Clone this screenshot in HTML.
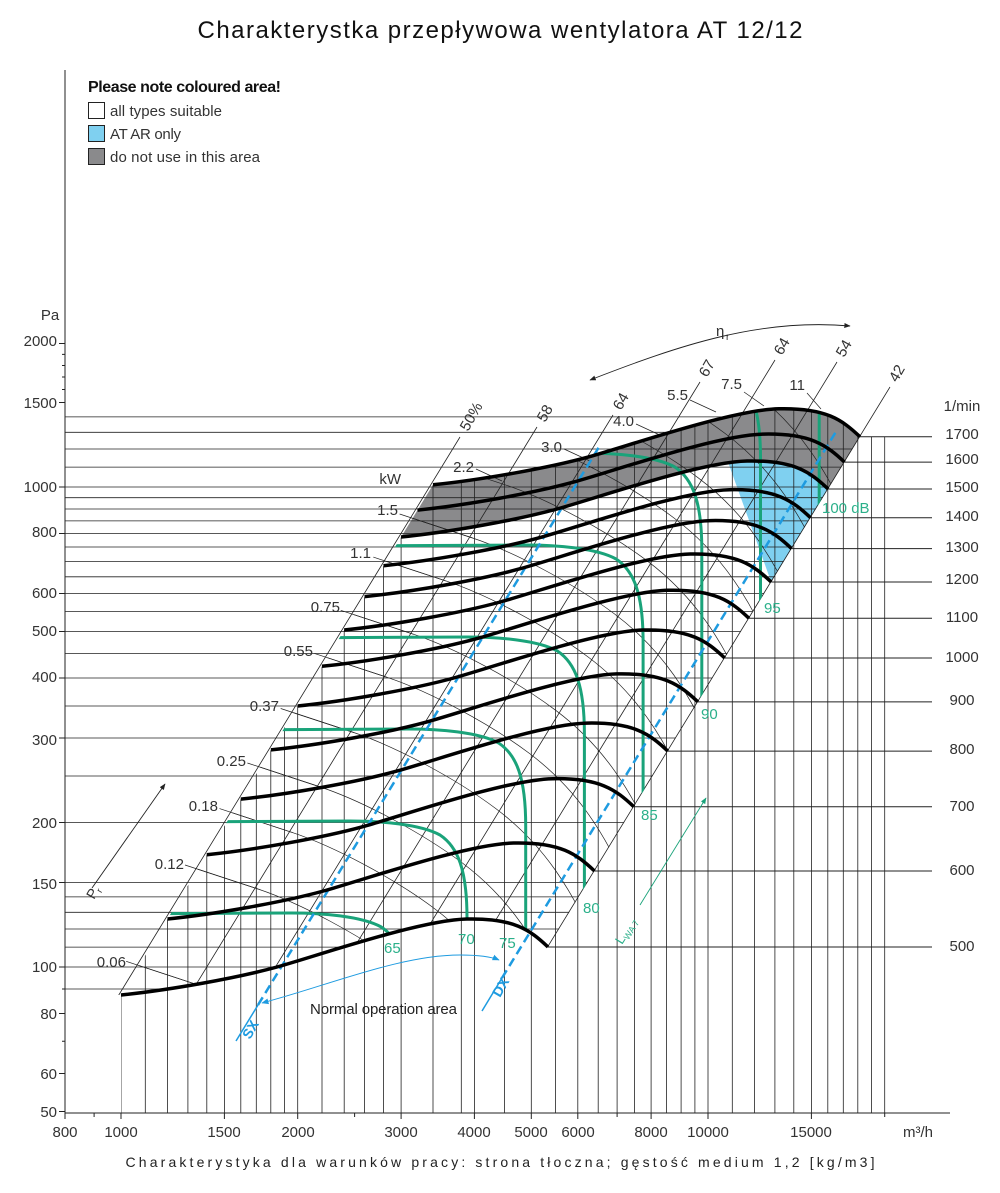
<!DOCTYPE html>
<html><head><meta charset="utf-8"><style>
html,body{margin:0;padding:0;background:#fff}
svg{display:block}
text{font-family:"Liberation Sans",sans-serif;fill:#333}
</style></head><body>
<svg width="1000" height="1193" viewBox="0 0 1000 1193" xmlns="http://www.w3.org/2000/svg">
<defs>
<clipPath id="cR"><path d="M121,995 C170,990 237,978 277,967 C317,956 420,920 467,919 C514,918 530,930 548,947 L860,436.8 C842,419.8 826,407.8 779,408.8 C732,409.8 629,445.8 589,456.8 C549,467.8 482,479.8 433,484.8 Z"/></clipPath>
<clipPath id="cV"><path d="M121,1113 L121,995 L433,484.8 C482,479.8 549,467.8 589,456.8 C629,445.8 732,409.8 779,408.8 C826,407.8 842,419.8 860,436.8 L930,436.8 L930,1113 Z"/></clipPath>
<clipPath id="cH"><path d="M65,395 L779,395 L779,409 L745,412 L679,427 L660,434 L860,436.8 L548,947 C530,930 514,918 467,919 C420,920 317,956 277,967 C237,978 170,990 121,995 L65,995 Z"/></clipPath>
<clipPath id="cB"><path d="M0,0 L1000,0 L1000,947 L548,947 C530,930 514,918 467,919 C420,920 317,956 277,967 C237,978 170,990 121,995 L0,995 Z"/></clipPath>
<path id="fan" d="M121,995 C170,990 237,978 277,967 C317,956 420,920 467,919 C514,918 530,930 548,947"/>
<path id="pw" d="M185,865 L258,889 C300,903 360,935 400,965 C440,995 480,1040 515,1140"/>
<path id="ld" d="M185,865 L258,889"/>
<path id="db" d="M150,822 L350,821 C380,821 420,824 440,835 C458,847 467,870 467,918 L467,1100"/>
<marker id="ab" viewBox="0 0 10 10" refX="9" refY="5" markerWidth="7" markerHeight="7" orient="auto-start-reverse"><path d="M0,1 L10,5 L0,9 Z" fill="#222"/></marker>
<marker id="abl" viewBox="0 0 10 10" refX="9" refY="5" markerWidth="8" markerHeight="8" orient="auto-start-reverse"><path d="M0,1 L10,5 L0,9 Z" fill="#1e9be0"/></marker>
<marker id="agr" viewBox="0 0 10 10" refX="9" refY="5" markerWidth="7" markerHeight="7" orient="auto"><path d="M0,1 L10,5 L0,9 Z" fill="#1aa37a"/></marker>
</defs>
<text x="500" y="38" text-anchor="middle" font-size="24" textLength="605" style="fill:#111">Charakterystka przepływowa wentylatora AT 12/12</text>

<path d="M401.1,537 C450.1,532 517.1,520 557.1,509 C597.1,498 700.1,462 747.1,461 C794.1,460 810.1,472 828.1,489 L860,436.8 C842,419.8 826,407.8 779,408.8 C732,409.8 629,445.8 589,456.8 C549,467.8 482,479.8 433,484.8 Z" fill="#8a8a8c"/>
<path d="M728,462 L747,461 C794,460 810,472 828,489 L771.2,582 Z" fill="#7fd0f0"/>

<g clip-path="url(#cV)">
<path stroke="#222" stroke-width="0.8" fill="none" d="M121,0V1113M145.3,0V1113M167.5,0V1113M187.9,0V1113M206.8,0V1113M224.4,0V1113M240.8,0V1113M256.3,0V1113M270.8,0V1113M284.6,0V1113M297.7,0V1113M322,0V1113M344.2,0V1113M364.6,0V1113M383.5,0V1113M401.1,0V1113M433,0V1113M461.3,0V1113M474.4,0V1113M504.4,0V1113M531.3,0V1113M555.6,0V1113M577.8,0V1113M598.2,0V1113M617.1,0V1113M634.6,0V1113M651.1,0V1113M666.5,0V1113M681.1,0V1113M694.9,0V1113M708,0V1113M732.3,0V1113M754.5,0V1113M774.9,0V1113M793.8,0V1113M811.4,0V1113M827.8,0V1113M843.3,0V1113M857.8,0V1113M871.6,0V1113M884.7,0V1113"/>
</g>
<g clip-path="url(#cH)">
<path stroke="#222" stroke-width="0.8" fill="none" d="M65,989H940M65,967H940M65,947.1H940M65,929H940M65,912.3H940M65,896.9H940M65,882.5H940M65,822.5H940M65,776H940M65,738H940M65,706H940M65,678H940M65,653.5H940M65,631.5H940M65,611.6H940M65,593.5H940M65,576.8H940M65,561.4H940M65,547H940M65,533.5H940M65,520.9H940M65,509H940M65,497.7H940M65,487H940M65,467.1H940M65,449H940M65,432.3H940M65,416.9H940"/>
</g>
<path stroke="#222" stroke-width="1" fill="none" d="M548,947H932M594.5,871H932M633.8,806.7H932M667.8,751.1H932M697.9,701.9H932M724.7,658H932M749,618.3H932M771.2,582H932M791.6,548.6H932M810.5,517.7H932M828.1,489H932M844.5,462.1H932M860,436.8H932"/>
<g clip-path="url(#cR)" stroke="#222" stroke-width="0.7" fill="none">
<use href="#pw" transform="translate(-58.9,96.3)"/>
<use href="#pw"/>
<use href="#pw" transform="translate(34.5,-56.4)"/>
<use href="#pw" transform="translate(62.4,-102)"/>
<use href="#pw" transform="translate(95.7,-156.5)"/>
<use href="#pw" transform="translate(129.4,-211.6)"/>
<use href="#pw" transform="translate(155.7,-254.7)"/>
<use href="#pw" transform="translate(188.3,-307.9)"/>
<use href="#pw" transform="translate(214.6,-351)"/>
<use href="#pw" transform="translate(247.1,-404.2)"/>
<use href="#pw" transform="translate(273.5,-447.4)"/>
<use href="#pw" transform="translate(298,-487.3)"/>
<use href="#pw" transform="translate(325,-531.6)"/>
<use href="#pw" transform="translate(351.4,-574.7)"/>
<use href="#pw" transform="translate(384,-627.9)"/>
</g>
<g stroke="#222" stroke-width="0.7" fill="none">
<use href="#ld" transform="translate(-58.9,96.3)"/>
<use href="#ld"/>
<use href="#ld" transform="translate(34.5,-56.4)"/>
<use href="#ld" transform="translate(62.4,-102)"/>
<use href="#ld" transform="translate(95.7,-156.5)"/>
<use href="#ld" transform="translate(129.4,-211.6)"/>
<use href="#ld" transform="translate(155.7,-254.7)"/>
<use href="#ld" transform="translate(188.3,-307.9)"/>
<use href="#ld" transform="translate(214.6,-351)"/>
<path d="M476,469l26,12M564,449l26,12M636,424l26,12M690,400l26,12M744,392l20,14M807,393l14,16"/>
</g>
<g clip-path="url(#cB)">
<path stroke="#222" stroke-width="0.8" fill="none" d="M460,437L31.95,1137M537,427L108.95,1127M613,415L184.95,1115M700,382L271.95,1082M775,360L346.95,1060M837,362L408.95,1062M890,387L461.95,1087"/>
</g>
<g clip-path="url(#cR)" stroke="#1aa37a" stroke-width="3" fill="none">
<use href="#db" transform="translate(-58.7,92)"/>
<use href="#db"/>
<use href="#db" transform="translate(58.7,-92)"/>
<use href="#db" transform="translate(117.4,-184)"/>
<use href="#db" transform="translate(176.1,-276)"/>
<use href="#db" transform="translate(234.8,-368)"/>
<use href="#db" transform="translate(293.5,-460)"/>
<use href="#db" transform="translate(352.2,-552)"/>
</g>
<g stroke="#1e9be0" stroke-width="2.5" fill="none">
<line x1="258" y1="1005" x2="599" y2="447" stroke-dasharray="9,5"/>
<line x1="502" y1="978" x2="837" y2="430" stroke-dasharray="9,5"/>
<line x1="236" y1="1041" x2="258" y2="1005" stroke-width="1.5"/>
<line x1="482" y1="1011" x2="502" y2="978" stroke-width="1.5"/>
</g>
<g stroke="#000" stroke-width="3.5" fill="none">
<use href="#fan"/>
<use href="#fan" transform="translate(46.5,-76)"/>
<use href="#fan" transform="translate(85.8,-140.3)"/>
<use href="#fan" transform="translate(119.8,-195.9)"/>
<use href="#fan" transform="translate(149.9,-245.1)"/>
<use href="#fan" transform="translate(176.7,-289)"/>
<use href="#fan" transform="translate(201,-328.7)"/>
<use href="#fan" transform="translate(223.2,-365)"/>
<use href="#fan" transform="translate(243.6,-398.4)"/>
<use href="#fan" transform="translate(262.5,-429.3)"/>
<use href="#fan" transform="translate(280.1,-458)"/>
<use href="#fan" transform="translate(296.5,-484.9)"/>
<use href="#fan" transform="translate(312,-510.2)"/>
</g>

<line x1="65" y1="70" x2="65" y2="1113" stroke="#222" stroke-width="1"/>
<line x1="65" y1="1113" x2="950" y2="1113" stroke="#222" stroke-width="1"/>
<path stroke="#222" stroke-width="1" fill="none" d="M59,343.5H65M59,402.5H65M59,487H65M59,533.5H65M59,593.5H65M59,631.5H65M59,678H65M59,738H65M59,822.5H65M59,882.5H65M59,967H65M59,1013.5H65M59,1073.5H65M59,1111.5H65M62,1041.3H65M62,989H65M62,389.5H65M62,377H65M62,365.5H65M62,354.4H65M121,1113V1119M224.4,1113V1119M297.7,1113V1119M401.1,1113V1119M474.4,1113V1119M531.3,1113V1119M577.8,1113V1119M651.1,1113V1119M708,1113V1119M811.4,1113V1119M65,1113V1119M94.1,1113V1117M354.6,1113V1117M617.1,1113V1117M884.7,1113V1117"/>

<g font-size="15" text-anchor="end">
<text x="50" y="320" text-anchor="middle">Pa</text>
<text x="57" y="346">2000</text>
<text x="57" y="408">1500</text>
<text x="57" y="492">1000</text>
<text x="57" y="537">800</text>
<text x="57" y="598">600</text>
<text x="57" y="636">500</text>
<text x="57" y="682">400</text>
<text x="57" y="745">300</text>
<text x="57" y="828">200</text>
<text x="57" y="889">150</text>
<text x="57" y="972">100</text>
<text x="57" y="1019">80</text>
<text x="57" y="1079">60</text>
<text x="57" y="1117">50</text>
</g>
<g font-size="15" text-anchor="middle">
<text x="65" y="1137">800</text>
<text x="121" y="1137">1000</text>
<text x="224" y="1137">1500</text>
<text x="298" y="1137">2000</text>
<text x="401" y="1137">3000</text>
<text x="474" y="1137">4000</text>
<text x="531" y="1137">5000</text>
<text x="578" y="1137">6000</text>
<text x="651" y="1137">8000</text>
<text x="708" y="1137">10000</text>
<text x="811" y="1137">15000</text>
<text x="918" y="1137">m³/h</text>
</g>
<g font-size="15" text-anchor="middle">
<text x="962" y="411">1/min</text>
<text x="962" y="439">1700</text>
<text x="962" y="464">1600</text>
<text x="962" y="492">1500</text>
<text x="962" y="521">1400</text>
<text x="962" y="552">1300</text>
<text x="962" y="584">1200</text>
<text x="962" y="622">1100</text>
<text x="962" y="662">1000</text>
<text x="962" y="705">900</text>
<text x="962" y="754">800</text>
<text x="962" y="811">700</text>
<text x="962" y="875">600</text>
<text x="962" y="951">500</text>
</g>
<g font-size="15" text-anchor="end">
<text x="126" y="967">0.06</text>
<text x="184" y="869">0.12</text>
<text x="218" y="811">0.18</text>
<text x="246" y="766">0.25</text>
<text x="279" y="711">0.37</text>
<text x="313" y="656">0.55</text>
<text x="340" y="612">0.75</text>
<text x="371" y="558">1.1</text>
<text x="398" y="515">1.5</text>
<text x="401" y="484">kW</text>
<text x="474" y="472">2.2</text>
<text x="562" y="452">3.0</text>
<text x="634" y="426">4.0</text>
<text x="688" y="400">5.5</text>
<text x="742" y="389">7.5</text>
<text x="805" y="390">11</text>
</g>
<g font-size="15">
<text transform="translate(468,432) rotate(-60)">50%</text>
<text transform="translate(545,423) rotate(-60)">58</text>
<text transform="translate(621,411) rotate(-60)">64</text>
<text transform="translate(707,378) rotate(-60)">67</text>
<text transform="translate(782,356) rotate(-60)">64</text>
<text transform="translate(844,358) rotate(-60)">54</text>
<text transform="translate(897,383) rotate(-60)">42</text>
<text x="716" y="336">η</text><text x="726" y="340" font-size="10">r</text>
</g>
<g font-size="15">
<text x="384" y="953" style="fill:#2bb08a">65</text>
<text x="458" y="944" style="fill:#2bb08a">70</text>
<text x="499" y="948" style="fill:#2bb08a">75</text>
<text x="583" y="913" style="fill:#2bb08a">80</text>
<text x="641" y="820" style="fill:#2bb08a">85</text>
<text x="701" y="719" style="fill:#2bb08a">90</text>
<text x="764" y="613" style="fill:#2bb08a">95</text>
<text x="822" y="513" style="fill:#2bb08a">100 dB</text>
<text transform="translate(622,945) rotate(-58)" style="fill:#2bb08a" font-size="13">L<tspan font-size="9" dy="3">WA 7</tspan></text>
</g>
<text transform="translate(250,1040) rotate(-60)" font-size="14" font-weight="bold" style="fill:#1e9be0">SX</text>
<text transform="translate(500,998) rotate(-60)" font-size="14" font-weight="bold" style="fill:#1e9be0">DX</text>
<text x="310" y="1014" font-size="15" textLength="147" style="fill:#222">Normal operation area</text>
<text transform="translate(94,900) rotate(-60)" font-size="14">P<tspan font-size="9" dy="3">r</tspan></text>

<line x1="92" y1="888" x2="165" y2="784" stroke="#222" stroke-width="0.9" marker-end="url(#ab)"/>
<path d="M590,380 C680,345 760,318 850,326" stroke="#222" stroke-width="0.9" fill="none" marker-start="url(#ab)" marker-end="url(#ab)"/>
<line x1="640" y1="905" x2="706" y2="798" stroke="#1aa37a" stroke-width="0.9" marker-end="url(#agr)"/>
<path d="M262,1003 C330,985 400,955 460,955 C480,955 492,957 499,960" stroke="#1e9be0" stroke-width="0.9" fill="none" marker-start="url(#abl)" marker-end="url(#abl)"/>

<text x="88" y="92" font-size="16" font-weight="bold" textLength="193" style="fill:#111">Please note coloured area!</text>
<rect x="88.5" y="102.5" width="16" height="16" fill="#fff" stroke="#222"/>
<rect x="88.5" y="125.5" width="16" height="16" fill="#7fd0f0" stroke="#222"/>
<rect x="88.5" y="148.5" width="16" height="16" fill="#8a8a8c" stroke="#222"/>
<text x="110" y="116" font-size="15" textLength="112">all types suitable</text>
<text x="110" y="139" font-size="15" textLength="71">AT AR only</text>
<text x="110" y="162" font-size="15" textLength="150">do not use in this area</text>

<text x="500" y="1167" text-anchor="middle" font-size="14" textLength="749" style="fill:#222">Charakterystyka dla warunków pracy: strona tłoczna; gęstość medium 1,2 [kg/m3]</text>
</svg>
</body></html>
